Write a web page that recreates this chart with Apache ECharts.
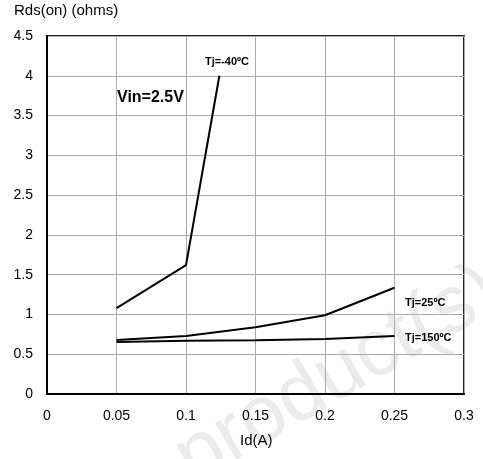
<!DOCTYPE html>
<html><head><meta charset="utf-8">
<script src="https://cdn.jsdelivr.net/npm/echarts@6/dist/echarts.min.js"></script>
<style>html,body{margin:0;padding:0;background:#fff}#c{width:483px;height:459px}</style>
</head><body><div id="c"></div>
<script>
const tjm40 = [[0.05, 1.08], [0.1, 1.62], [0.124, 4.0]];
const tj25 = [[0.05, 0.68], [0.1, 0.73], [0.15, 0.84], [0.2, 0.99], [0.25, 1.335]];
const tj150 = [[0.05, 0.655], [0.1, 0.67], [0.15, 0.675], [0.2, 0.69], [0.25, 0.73]];
const xTitle = 'Id(A)';
const yTitle = 'Rds(on) (ohms)';

const chart = echarts.init(document.getElementById('c'));
const ff = 'Liberation Sans, Arial, sans-serif';
const lineStyle = {color: '#000', width: 2};
chart.setOption({
  animation: false,
  textStyle: {fontFamily: ff},
  graphic: [
    {type: 'text', x: 202, y: 500, rotation: 30 * Math.PI / 180, z: -10, silent: true,
     style: {text: 'product(s)', font: '80px ' + ff, fill: '#ebebeb', verticalAlign: 'bottom'}},
    {type: 'text', left: 14, top: 3, style: {text: yTitle, font: '15px ' + ff, fill: '#000'}},
    {type: 'text', left: 240, top: 433, style: {text: xTitle, font: '15px ' + ff, fill: '#000'}},
    {type: 'text', left: 117, top: 90, style: {text: 'Vin=2.5V', font: 'bold 16px ' + ff, fill: '#000'}},
    {type: 'text', left: 205, top: 56, style: {text: 'Tj=-40ºC', font: 'bold 11px ' + ff, fill: '#000'}},
    {type: 'text', left: 405, top: 297, style: {text: 'Tj=25ºC', font: 'bold 11px ' + ff, fill: '#000'}},
    {type: 'text', left: 405, top: 332, style: {text: 'Tj=150ºC', font: 'bold 11px ' + ff, fill: '#000'}}
  ],
  grid: {left: 47, right: 19, top: 36, bottom: 65, show: true, borderColor: '#222', borderWidth: 2},
  xAxis: {
    type: 'value', min: 0, max: 0.3, interval: 0.05,
    axisLine: {show: true, lineStyle: {color: '#000', width: 2}},
    axisTick: {show: false},
    axisLabel: {color: '#000', fontSize: 14, margin: 15, formatter: v => String(+v.toFixed(2))},
    splitLine: {show: true, lineStyle: {color: '#aaa', width: 1}}
  },
  yAxis: {
    type: 'value', min: 0, max: 4.5, interval: 0.5,
    axisLine: {show: true, lineStyle: {color: '#000', width: 2}},
    axisTick: {show: false},
    axisLabel: {color: '#000', fontSize: 14, margin: 14, formatter: v => String(+v.toFixed(1))},
    splitLine: {show: true, lineStyle: {color: '#aaa', width: 1}}
  },
  series: [
    {type: 'line', data: tjm40, symbol: 'none', lineStyle},
    {type: 'line', data: tj25, symbol: 'none', lineStyle},
    {type: 'line', data: tj150, symbol: 'none', lineStyle}
  ]
});
</script></body></html>
